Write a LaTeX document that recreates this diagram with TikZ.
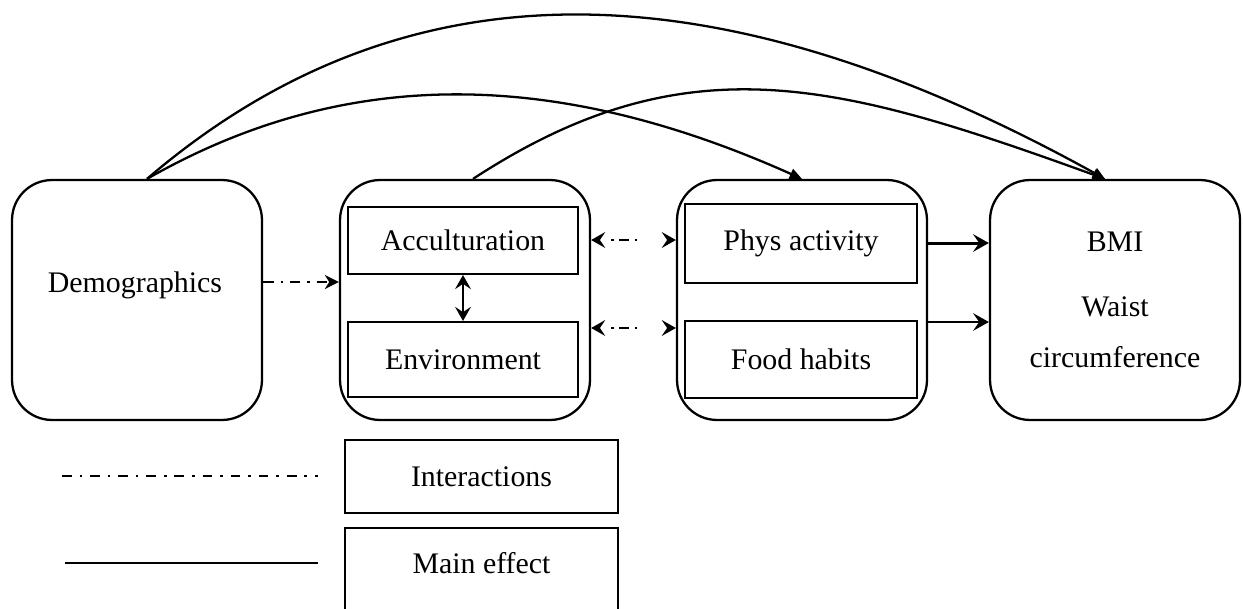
\documentclass[tikz,border=0pt]{standalone}
\usepackage{fontspec}
\setmainfont{Liberation Serif}
\usetikzlibrary{arrows.meta}

\tikzset{
  bigbox/.style={draw, line width=1.3pt, rounded corners=0.8cm, minimum width=5cm, minimum height=4.8cm},
  innerbox/.style={draw, line width=1.2pt, minimum width=4.6cm},
  legbox/.style={draw, line width=0.8pt, minimum width=5.46cm, minimum height=1.46cm},
  interact/.style={line width=1.2pt, dash pattern=on 6pt off 4pt on 1.2pt off 4pt},
  swap/.style={line width=1.2pt, dash pattern=on 0pt off 7pt on 1.2pt off 3pt on 6pt off 3pt on 1.2pt off 30pt,
    {Stealth[length=8pt,width=9pt,inset=3pt]}-{Stealth[length=8pt,width=9pt,inset=3pt]}},
  effect/.style={line width=1.7pt, -{Stealth[length=9pt,width=10pt,inset=3.5pt]}},
  arc/.style={line width=1.3pt, -{Triangle[length=7pt,width=6pt]}},
}

\begin{document}
\begin{tikzpicture}[x=0.02cm, y=-0.02cm, font=\fontsize{17}{29}\selectfont]
\useasboundingbox (0,0) rectangle (1243,608);

% main boxes
\node[bigbox] (demo) at (137,300) {};
\node (demotext) at (135,285) {Demographics};

\node[bigbox] (envbox) at (465,300) {};
\node[innerbox, minimum height=1.34cm] (accult) at (463,240.5) {Acculturation};
\node[innerbox, minimum height=1.5cm] (environ) at (463,359.5) {Environment};

\node[bigbox] (behbox) at (802,300) {};
\node[innerbox, minimum width=4.64cm, minimum height=1.58cm] (physact) at (801,243.5) {Phys activity};
\node[innerbox, minimum width=4.64cm, minimum height=1.54cm] (food) at (801,359.5) {Food habits};

\node[bigbox, align=center] (outcome) at (1115,300) {BMI\\[8pt]Waist\\circumference};

% interactions
\draw[interact, -{Stealth[length=8pt,width=8pt,inset=2.5pt]}] ([yshift=0.36cm]demo.east) -- ([yshift=0.36cm]envbox.west);
\draw[swap] ([yshift=1.2cm]envbox.east) -- ([yshift=1.2cm]behbox.west);
\draw[swap] ([yshift=-0.56cm]envbox.east) -- ([yshift=-0.56cm]behbox.west);
\draw[line width=1.2pt, {Stealth[length=8pt,width=9pt,inset=3pt]}-{Stealth[length=8pt,width=9pt,inset=3pt]}] (accult) -- (environ);

% main effects
\draw[effect] ([yshift=1.14cm]behbox.east) -- ([yshift=1.14cm]outcome.west);
\draw[effect] ([yshift=-0.44cm]behbox.east) -- ([yshift=-0.44cm]outcome.west);
\draw[arc] ([xshift=0.2cm]demo.north) .. controls (426,-60) and (749,-18) .. ([xshift=-0.2cm]outcome.north);
\draw[arc] ([xshift=0.2cm]demo.north) .. controls (350,63) and (561,71) .. (behbox.north);
\draw[arc] ([xshift=0.16cm]envbox.north) .. controls (687,39) and (840,83) .. ([xshift=-0.2cm]outcome.north);

% legend
\coordinate (intstart) at (62,476);
\coordinate (intend) at (318,476);
\draw[line width=1.2pt, dash pattern=on 5.5pt off 4.5pt on 1.5pt off 4.5pt] (intstart) -- (intend);
\node[legbox] (interlbl) at (481.5,476.5) {Interactions};

\coordinate (mainstart) at (65,563);
\coordinate (mainend) at (318,563);
\draw[line width=1.6pt] (mainstart) -- (mainend);
\draw[line width=0.8pt] (345,612) |- (618,528) -- (618,612);
\node (mainlbl) at (481.5,563) {Main effect};
\end{tikzpicture}
\end{document}
